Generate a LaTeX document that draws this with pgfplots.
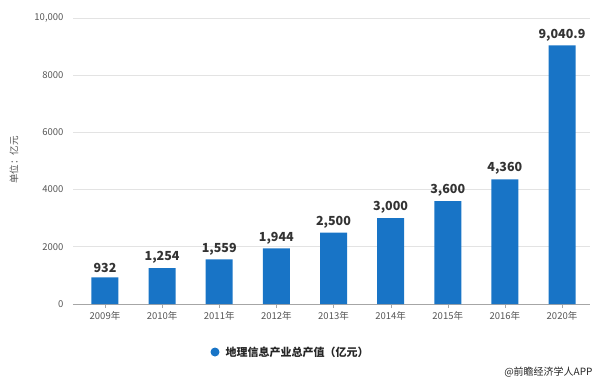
\documentclass[border=0pt]{standalone}
\usepackage{pgfplots}
\pgfplotsset{compat=1.18}
\usepackage{pgfplotstable}
\usepackage{fontspec}
\setmainfont{Noto Sans CJK SC}
\definecolor{barblue}{HTML}{1874C6}
\definecolor{gridc}{HTML}{E3E3E3}
\definecolor{tickc}{HTML}{555555}
\pgfplotstableread{
x y lab
0 932 932
1 1254 1,254
2 1559 1,559
3 1944 1,944
4 2500 2,500
5 3000 3,000
6 3600 3,600
7 4360 4,360
8 9040.9 9,040.9
}\datatable
\begin{document}
\begin{tikzpicture}
\useasboundingbox (0pt,0pt) rectangle (600pt,-384pt);
\begin{axis}[
  at={(73pt,-304pt)}, anchor=south west,
  scale only axis, width=517pt, height=286pt,
  xmin=-0.56, xmax=8.49, ymin=0, ymax=10000,
  axis y line*=left, axis x line*=bottom,
  y axis line style={draw=none},
  x axis line style={draw=gray!70, -},
  xtick=data,
  xticklabels={2009年,2010年,2011年,2012年,2013年,2014年,2015年,2016年,2020年},
  xtick style={draw=gray!70},
  tick align=outside,
  major tick length=4pt,
  ytick={0,2000,4000,6000,8000,10000},
  yticklabels={0,2000,4000,6000,8000,{10,000}},
  scaled y ticks=false,
  ymajorgrids, grid style={gridc, line width=0.8pt},
  ytick style={draw=none},
  yticklabel style={xshift=-2pt},
  every tick label/.style={font=\fontsize{9.5}{10}\selectfont, text=tickc},
  /pgf/number format/assume math mode=true,
  clip=false,
]
\addplot[ybar, bar width=27pt, fill=barblue, draw=none,
  nodes near coords, point meta=explicit symbolic,
  nodes near coords style={font=\bfseries\fontsize{12.5}{12.5}\selectfont, text=black!80, yshift=1pt}]
  table[x=x, y=y, meta=lab]{\datatable};
\end{axis}
\node[rotate=90, font=\fontsize{9.5}{10}\selectfont, text=tickc] at (14pt,-160pt) {单位：亿元};
\fill[barblue] (215pt,-352pt) circle (4.5pt);
\node[anchor=west, font=\bfseries\fontsize{11}{11}\selectfont, text=black!85] at (222pt,-352pt) {地理信息产业总产值（亿元）};
\node[anchor=east, font=\fontsize{10}{10}\selectfont, text=black!85] at (596pt,-372pt) {@前瞻经济学人APP};
\end{tikzpicture}
\end{document}
